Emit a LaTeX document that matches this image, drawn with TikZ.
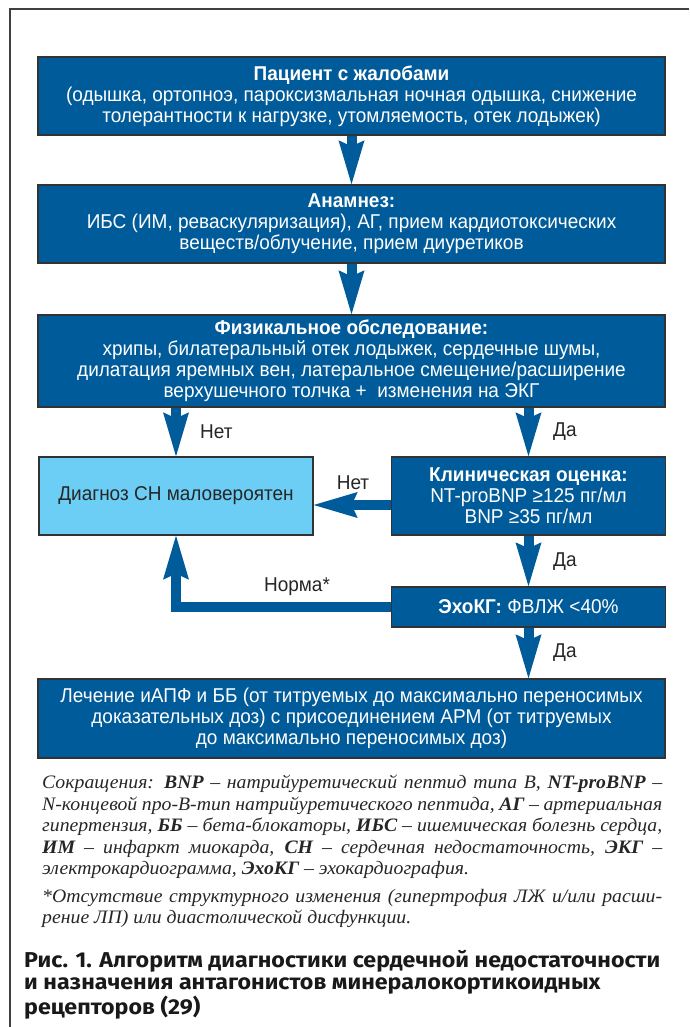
\documentclass[tikz,border=0pt]{standalone}
\usepackage{fontspec}
\setmainfont{Liberation Sans}
\newfontfamily\boxfont[FakeStretch=0.95]{Liberation Sans}
\newfontfamily\notefont[FakeStretch=1.04]{Liberation Serif}
\newfontfamily\capfont[FakeStretch=1.08]{Fira Sans}
\usetikzlibrary{arrows.meta, calc, positioning}
\definecolor{darkblue}{RGB}{0,91,154}
\definecolor{lightblue}{RGB}{108,205,245}
\tikzset{>={Stealth[length=44pt, width=26pt, inset=6pt, line width=0pt]}}
\tikzset{box-d/.style = {draw=black!80, line width=1.4pt, fill=darkblue, text=white, align=center, inner sep=0pt, font=\boxfont\fontsize{20}{21}\selectfont}}
\tikzset{box-l/.style = {box-d, fill=lightblue, text=black!85}}
\tikzset{flow/.style = {draw=darkblue, line width=10pt}}
\tikzset{lbl/.style = {font=\boxfont\fontsize{20}{21}\selectfont, text=black!85, inner sep=0pt}}

\begin{document}
\begin{tikzpicture}[x=1pt, y=-1pt]
  \useasboundingbox (0,0) rectangle (689,1027);
  \draw[black!75, line width=1.5pt] (689,9) -- (10,9) -- (10,1027);
  \tikzset{wide/.style = {minimum width=627pt, minimum height=78pt}}
  \tikzset{half/.style = {minimum width=274pt, minimum height=78pt}}
  \path (351.5,96) node[box-d, wide] (complaints)
        {\textbf{Пациент с жалобами}\\(одышка, ортопноэ, пароксизмальная ночная одышка, снижение\\толерантности к нагрузке, утомляемость, отек лодыжек)}
      ++(0,128) node[box-d, wide] (anamnesis)
        {\textbf{Анамнез:}\\ИБС (ИМ, реваскуляризация), АГ, прием кардиотоксических\\веществ/облучение, прием диуретиков}
      ++(0,137) node[box-d, wide, minimum height=92pt] (exam)
        {\textbf{Физикальное обследование:}\\хрипы, билатеральный отек лодыжек, сердечные шумы,\\дилатация яремных вен, латеральное смещение/расширение\\верхушечного толчка +\ \ изменения на ЭКГ}
      ++(-175.5,135) node[box-l, half] (unlikely) {Диагноз СН маловероятен}
      ++(352.5,0) node[box-d, half] (clinical)
        {\textbf{Клиническая оценка:}\\NT-proBNP ≥125 пг/мл\\BNP ≥35 пг/мл}
      ++(0,111) node[box-d, half, minimum height=40pt] (echo) {\textbf{ЭхоКГ:} ФВЛЖ <40\%}
      ++(-177,111.5) node[box-d, wide, minimum height=79pt] (treat)
        {Лечение иАПФ и ББ (от титруемых до максимально переносимых\\доказательных доз) с присоединением АРМ (от титруемых\\до максимально переносимых доз)};

  \coordinate (nr) at ($(clinical.west)+(0,9)$);
  \foreach \i/\o in {complaints/anamnesis, anamnesis/exam, exam.south-|unlikely/unlikely,
    exam.south-|clinical/clinical, clinical/echo, echo.south/echo.south|-treat.north, nr/nr-|unlikely.east}
  {
    \draw[flow, ->] (\i) -- (\o);
  }
  \draw[flow, ->] (echo.west) -- (echo.west-|unlikely.south) -- (unlikely.south);

  \node[lbl, anchor=west] (no1) at (200,432) {Нет};
  \node[lbl, anchor=west] (yes1) at (553,432) {Да};
  \node[lbl] (no2) at (353,483) {Нет};
  \node[lbl, anchor=west] (yes2) at (553,562) {Да};
  \node[lbl] (norm) at (297,587) {Норма*};
  \node[lbl, anchor=west] (yes3) at (553,653) {Да};

  \node[anchor=north west, text width=620pt, align=justify, inner sep=0pt, text=black!85,
        font=\notefont\itshape\fontsize{19}{21.5}\selectfont] (abbr) at (42,775)
    {Сокращения: \textbf{BNP} – натрийуретический пептид типа В, \textbf{NT-proBNP} –\linebreak
     N-концевой про-В-тип натрийуретического пептида, \textbf{АГ} – артериальная\linebreak
     гипертензия, \textbf{ББ} – бета-блокаторы, \textbf{ИБС} – ишемическая болезнь сердца,\linebreak
     \textbf{ИМ} – инфаркт миокарда, \textbf{СН} – сердечная недостаточность, \textbf{ЭКГ} –\linebreak
     электрокардиограмма, \textbf{ЭхоКГ} – эхокардиография.};
  \node[anchor=north west, text width=620pt, align=justify, inner sep=0pt, text=black!85,
        font=\notefont\itshape\fontsize{19}{21.5}\selectfont] (foot) at (42,889)
    {*Отсутствие структурного изменения (гипертрофия ЛЖ и/или расши-\linebreak
     рение ЛП) или диастолической дисфункции.};
  \node[anchor=north west, align=left, inner sep=0pt, text=black!90,
        font=\capfont\bfseries\fontsize{21.5}{22.5}\selectfont] (caption) at (24,950)
    {Рис. 1. Алгоритм диагностики сердечной недостаточности\\
     и назначения антагонистов минералокортикоидных\\
     рецепторов (29)};
\end{tikzpicture}
\end{document}
